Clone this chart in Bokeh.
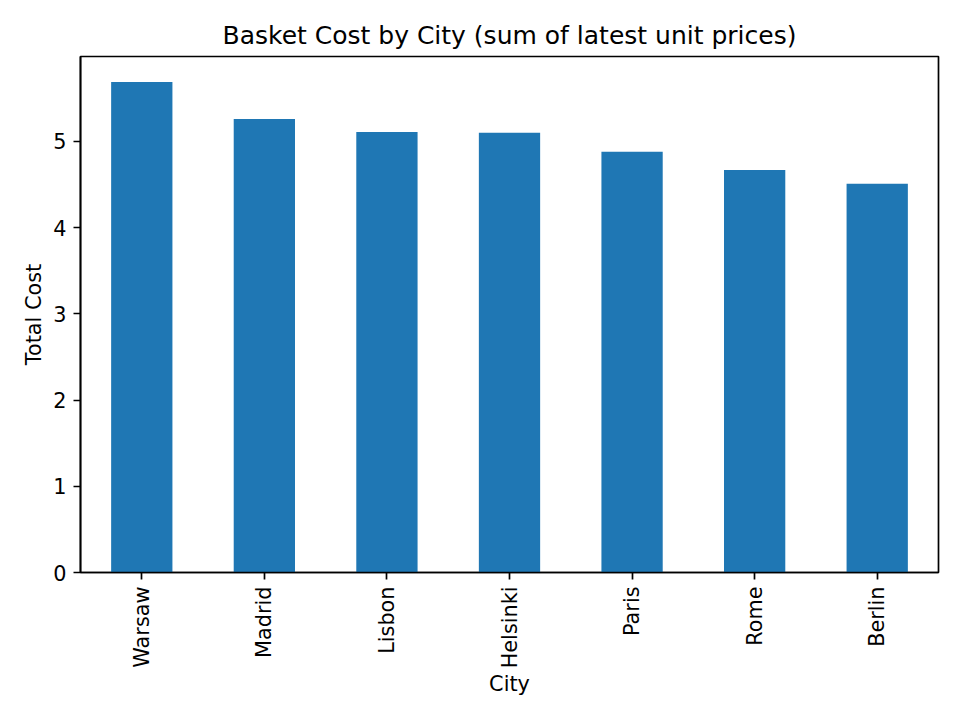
import math

from bokeh.plotting import figure
from bokeh.models import ColumnDataSource, FactorRange, FixedTicker, Range1d
from bokeh.embed import file_html
from bokeh.resources import INLINE

# basket cost per city
cities = ["Warsaw", "Madrid", "Lisbon", "Helsinki", "Paris", "Rome", "Berlin"]
total_cost = [5.69, 5.26, 5.11, 5.10, 4.88, 4.67, 4.51]
y_ticks = [0, 1, 2, 3, 4, 5]

FONT = "DejaVu Sans"
source = ColumnDataSource(dict(city=cities, cost=total_cost))

p = figure(
    title="Basket Cost by City (sum of latest unit prices)",
    x_range=FactorRange(factors=cities, range_padding=0),
    y_range=Range1d(0, max(total_cost) * 1.052),
    x_axis_label="City",
    y_axis_label="Total Cost",
    frame_width=858,
    frame_height=516,
    min_border_left=80,
    min_border_right=6,
    min_border_top=56,
    min_border_bottom=132,
    output_backend="svg",
    toolbar_location=None,
    tools="",
)

p.vbar(x="city", top="cost", width=0.5, source=source,
       fill_color="#1f77b4", line_color=None)

p.title.align = "center"
p.title.text_font = FONT
p.title.text_font_size = "25px"
p.title.text_font_style = "normal"
p.title.text_color = "black"
p.title.standoff = 13

p.xgrid.visible = False
p.ygrid.visible = False
p.outline_line_color = "black"
p.outline_line_width = 1.7
p.background_fill_color = "white"
p.border_fill_color = "white"

for ax in (p.xaxis[0], p.yaxis[0]):
    ax.axis_line_color = "black"
    ax.axis_line_width = 1.7
    ax.major_tick_line_color = "black"
    ax.major_tick_line_width = 1.7
    ax.major_tick_out = 7
    ax.major_tick_in = 0
    ax.minor_tick_line_color = None
    ax.major_label_text_font = FONT
    ax.major_label_text_font_size = "20.8px"
    ax.major_label_text_color = "black"
    ax.major_label_standoff = 7
    ax.axis_label_text_font = FONT
    ax.axis_label_text_font_size = "20.8px"
    ax.axis_label_text_font_style = "normal"
    ax.axis_label_text_color = "black"

p.xaxis.axis_label_standoff = 1
p.yaxis.axis_label_standoff = 4
p.yaxis.ticker = FixedTicker(ticks=y_ticks)
p.xaxis.major_label_orientation = math.pi / 2

open("out.html", "w").write(file_html(p, INLINE))
